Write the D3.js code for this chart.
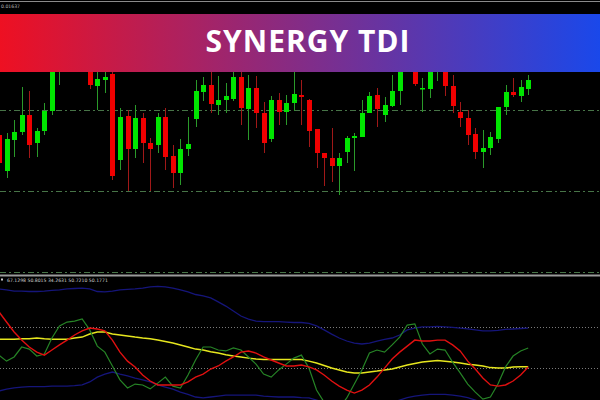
<!DOCTYPE html>
<html>
<head>
<meta charset="utf-8">
<script src="https://cdn.jsdelivr.net/npm/d3@7"></script>
<style>
html,body{margin:0;padding:0;background:#000;}
svg{display:block;}
</style>
</head>
<body>
<svg id="chart" width="600" height="400"></svg>
<script>
// ---------- DATA ----------
const title = "SYNERGY TDI";
const priceLabel = "0.01637";
const tdiLabel = "67.1298 50.8015 34.2631 50.7210 50.1771";

// candles (index 0..70)
const open  = [1.1865,1.1829,1.1860,1.1868,1.1885,1.1857,1.1869,1.1889,1.1930,1.1950,1.1970,1.1955,1.1945,1.1914,1.1920,1.1926,1.1840,1.1884,1.1851,1.1882,1.1857,1.1855,1.1883,1.1844,1.1827,1.1851,1.1881,1.1908,1.1915,1.1895,1.1900,1.1901,1.1923,1.1891,1.1912,1.1887,1.1861,1.1900,1.1888,1.1897,1.1905,1.1900,1.1871,1.1847,1.1842,1.1834,1.1848,1.1862,1.1863,1.1887,1.1905,1.1885,1.1894,1.1909,1.1955,1.1945,1.1911,1.1911,1.1932,1.1945,1.1914,1.1888,1.1882,1.1866,1.1848,1.1852,1.1861,1.1893,1.1908,1.1904,1.1911];
const high  = [1.1872,1.1867,1.1880,1.1913,1.1909,1.1872,1.1897,1.1950,1.1960,1.1975,1.1980,1.1985,1.1955,1.1935,1.1935,1.1930,1.1892,1.1890,1.1895,1.1887,1.1862,1.1887,1.1892,1.1855,1.1861,1.1883,1.1920,1.1923,1.1930,1.1924,1.1917,1.1932,1.1930,1.1925,1.1924,1.1898,1.1904,1.1907,1.1905,1.1930,1.1920,1.1901,1.1871,1.1847,1.1872,1.1847,1.1864,1.1867,1.1900,1.1908,1.1912,1.1903,1.1925,1.1950,1.1960,1.1950,1.1922,1.1945,1.1955,1.1950,1.1925,1.1898,1.1890,1.1872,1.1870,1.1868,1.1893,1.1915,1.1922,1.1920,1.1925];
const low   = [1.1830,1.1822,1.1843,1.1865,1.1842,1.1843,1.1865,1.1885,1.1915,1.1940,1.1945,1.1945,1.1911,1.1890,1.1907,1.1820,1.1830,1.1809,1.1842,1.1837,1.1809,1.1847,1.1830,1.1812,1.1815,1.1844,1.1873,1.1899,1.1887,1.1885,1.1887,1.1899,1.1875,1.1860,1.1872,1.1847,1.1858,1.1875,1.1875,1.1889,1.1875,1.1853,1.1832,1.1814,1.1818,1.1805,1.1837,1.1829,1.1863,1.1887,1.1873,1.1878,1.1893,1.1895,1.1930,1.1914,1.1888,1.1902,1.1919,1.1904,1.1887,1.1873,1.1855,1.1841,1.1832,1.1845,1.1857,1.1885,1.1903,1.1898,1.1905];
const close = [1.1837,1.1861,1.1868,1.1885,1.1855,1.1869,1.1889,1.1940,1.1950,1.1970,1.1955,1.1975,1.1915,1.1921,1.1923,1.1824,1.1883,1.1851,1.1882,1.1857,1.1851,1.1883,1.1843,1.1827,1.1851,1.1856,1.1909,1.1915,1.1896,1.1900,1.1904,1.1923,1.1892,1.1912,1.1887,1.1857,1.1900,1.1888,1.1897,1.1906,1.1903,1.1869,1.1847,1.1842,1.1834,1.1842,1.1862,1.1864,1.1887,1.1904,1.1891,1.1895,1.1909,1.1940,1.1935,1.1916,1.1912,1.1940,1.1950,1.1914,1.1894,1.1882,1.1865,1.1848,1.1852,1.1863,1.1893,1.1908,1.1905,1.1913,1.1920];
const priceLevels = [1.1890, 1.1809, 1.1728];

// TDI indicator
const rsiPriceLine = [37.7,35.1,36.9,41.2,40.3,37.3,38.2,45.1,50.3,52.0,52.4,53.3,48.6,41.6,39.0,33.0,27.0,23.5,25.2,24.8,23.1,25.6,28.2,24.3,23.5,29.1,35.6,41.2,41.2,39.9,39.5,40.8,39.9,36.9,33.8,29.5,28.2,31.3,33.8,36.4,37.7,32.1,22.6,17.4,14.0,14.8,19.2,25.2,31.3,38.6,39.9,39.0,42.1,45.5,50.7,51.2,42.5,38.2,40.3,39.9,34.7,30.0,25.2,21.7,18.7,19.6,25.2,32.6,37.3,39.5,40.8];
const signalLine = [56.4,52.0,47.7,44.2,41.2,39.0,37.7,39.9,42.1,44.2,46.4,48.2,49.4,49.0,48.2,44.2,39.0,35.1,32.6,29.1,26.5,24.8,24.8,24.8,24.8,26.1,28.2,29.5,31.7,33.0,35.1,36.9,39.0,39.5,38.6,36.9,35.6,34.3,33.0,33.0,33.4,32.6,31.3,29.1,26.5,24.3,22.6,21.3,22.6,24.8,28.2,32.1,36.0,39.0,41.6,44.2,43.8,43.8,44.2,44.2,42.1,39.5,35.1,31.7,27.8,24.8,24.3,24.8,26.5,29.1,32.6];
const marketBase = [44.6,44.6,44.6,44.8,44.8,45.1,44.8,44.6,44.6,44.6,45.1,45.5,46.8,47.7,47.7,46.8,46.4,46.0,45.5,45.1,44.8,44.2,43.6,42.9,42.1,41.2,40.3,39.9,39.2,38.6,37.9,37.3,36.9,36.4,36.0,35.8,35.8,35.8,35.8,35.8,35.8,35.1,34.3,33.2,32.1,31.3,30.4,30.0,30.0,30.4,30.8,31.3,31.7,32.6,33.4,34.1,34.7,35.1,35.4,35.1,34.7,34.3,33.8,33.4,33.0,32.3,32.1,32.1,32.6,32.7,32.7];
const upperBand = [66.3,65.9,65.4,65.4,65.2,65.2,65.4,65.7,65.9,66.3,66.5,66.7,66.3,65.2,65.0,65.4,65.9,66.1,66.3,66.7,67.2,67.4,67.2,66.7,65.9,65.0,63.9,63.3,62.4,60.7,58.9,56.8,54.6,53.3,52.4,52.2,52.2,52.2,52.0,51.8,51.8,51.4,50.3,48.6,46.8,45.1,43.8,42.9,42.5,42.9,43.8,44.5,45.1,46.4,48.6,49.4,49.9,49.9,50.1,49.9,49.7,49.4,49.0,48.6,48.2,48.2,48.4,48.8,49.0,49.2,49.4];
const lowerBand = [22.2,23.0,23.5,23.9,24.1,24.1,24.1,24.3,24.3,24.3,24.5,24.8,26.1,28.2,29.5,30.4,29.5,28.7,27.8,27.0,26.1,24.8,23.9,23.0,21.7,20.7,19.6,19.2,19.6,20.0,20.4,20.4,20.4,20.4,20.4,20.0,19.8,19.6,19.6,19.6,19.3,19.2,18.3,17.0,15.7,14.4,14.0,14.0,14.0,14.4,14.8,15.7,17.0,18.3,19.3,20.0,20.4,20.7,20.7,20.7,20.4,20.0,19.3,18.3,17.0,16.1,15.7,15.7,15.7,16.1,16.5];
const tdiLevels = [50, 32];

// ---------- DRAW ----------
const W = 600, H = 400;
const svg = d3.select("#chart");
svg.append("rect").attr("width", W).attr("height", H).attr("fill", "#000");

const n = open.length;
const x = d3.scaleLinear().domain([0, n - 1]).range([-1, 528.2]);
const yP = d3.scaleLinear().domain([1.1728, 1.2000]).range([272, 0]);
const yT = d3.scaleLinear().domain([18.3, 71.9]).range([400, 276]);

// top border line and price text
svg.append("line").attr("x1", 0).attr("x2", W).attr("y1", 1.5).attr("y2", 1.5)
  .attr("stroke", "#8a8a8a").attr("stroke-width", 1);
svg.append("text").attr("x", 1).attr("y", 7.5).text(priceLabel)
  .attr("fill", "#bbbbbb").attr("font-family", "DejaVu Sans").attr("font-size", 4.6);

// price level lines
svg.append("g").selectAll("line").data(priceLevels).join("line")
  .attr("x1", 0).attr("x2", W)
  .attr("y1", d => Math.round(yP(d)) + 0.5).attr("y2", d => Math.round(yP(d)) + 0.5)
  .attr("stroke", "#477447").attr("stroke-width", 1)
  .attr("stroke-dasharray", "6,3,2,3");

// candles
const idx = d3.range(n);
const gC = svg.append("g");
const up = i => close[i] >= open[i];
gC.selectAll("line.wick").data(idx).join("line")
  .attr("x1", i => Math.round(x(i)) + 0.5).attr("x2", i => Math.round(x(i)) + 0.5)
  .attr("y1", i => yP(high[i])).attr("y2", i => yP(low[i]))
  .attr("stroke", i => up(i) ? "#2a9a2a" : "#a01818").attr("stroke-width", 1);
gC.selectAll("rect").data(idx).join("rect")
  .attr("x", i => Math.round(x(i)) - 2)
  .attr("width", 5)
  .attr("y", i => yP(Math.max(open[i], close[i])))
  .attr("height", i => Math.max(1.5, Math.abs(yP(open[i]) - yP(close[i]))))
  .attr("fill", i => up(i) ? "#00e600" : "#f00000");

// separator between panels
svg.append("line").attr("x1", 0).attr("x2", W).attr("y1", 275.5).attr("y2", 275.5)
  .attr("stroke", "#9a9a9a").attr("stroke-width", 2);

// TDI label
svg.append("rect").attr("x", 1).attr("y", 278.5).attr("width", 2).attr("height", 2).attr("fill", "#cccccc");
svg.append("text").attr("x", 7).attr("y", 282).text(tdiLabel)
  .attr("fill", "#cfcfcf").attr("font-family", "DejaVu Sans").attr("font-size", 4.6);

// TDI levels
svg.append("g").selectAll("line").data(tdiLevels).join("line")
  .attr("x1", 0).attr("x2", W)
  .attr("y1", d => Math.round(yT(d)) + 0.5).attr("y2", d => Math.round(yT(d)) + 0.5)
  .attr("stroke", "#7a7a7a").attr("stroke-width", 1).attr("stroke-dasharray", "1,2");

const line = d3.line().x((d, i) => x(i)).y(d => yT(d));
const series = [
  {v: upperBand, c: "#15157a", w: 1.3},
  {v: lowerBand, c: "#15157a", w: 1.3},
  {v: marketBase, c: "#e6e61e", w: 1.5},
  {v: rsiPriceLine, c: "#268426", w: 1.2},
  {v: signalLine, c: "#e01010", w: 1.4}
];
svg.append("g").selectAll("path").data(series).join("path")
  .attr("d", d => line(d.v)).attr("fill", "none")
  .attr("stroke", d => d.c).attr("stroke-width", d => d.w);

// title banner
const defs = svg.append("defs");
const grad = defs.append("linearGradient").attr("id", "bannerGrad")
  .attr("x1", "0%").attr("x2", "100%").attr("y1", "0%").attr("y2", "0%");
grad.append("stop").attr("offset", "0%").attr("stop-color", "#ee1022");
grad.append("stop").attr("offset", "100%").attr("stop-color", "#1a48ea");
svg.append("rect").attr("x", 0).attr("y", 14).attr("width", W).attr("height", 58)
  .attr("fill", "url(#bannerGrad)");
svg.append("text").attr("x", 308).attr("y", 51.5).attr("text-anchor", "middle")
  .text(title).attr("fill", "#ffffff")
  .attr("font-family", "Open Sans, sans-serif").attr("font-weight", 700)
  .attr("font-size", 30).attr("letter-spacing", 1);
</script>
</body>
</html>
